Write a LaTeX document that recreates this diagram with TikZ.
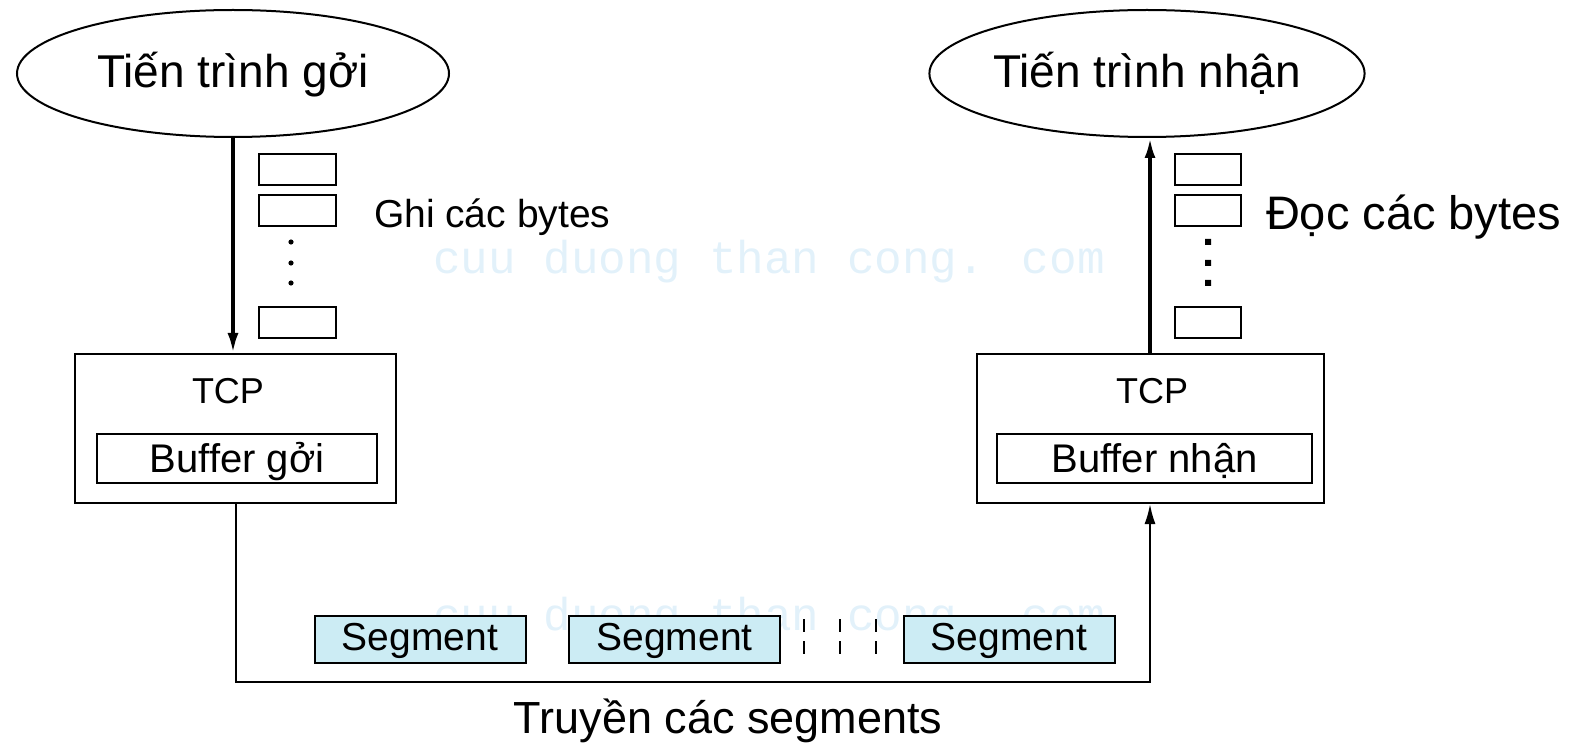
\documentclass[tikz,border=0pt]{standalone}
\usepackage{fontspec}
\setmainfont{Liberation Sans}
\newfontfamily\wmfont{Liberation Mono}
\usetikzlibrary{shapes.geometric,arrows.meta}
\definecolor{segfill}{RGB}{204,236,244}
\definecolor{wmcol}{RGB}{226,241,250}
\begin{document}
\begin{tikzpicture}[x=1pt,y=-1pt,line width=2pt,
  proc/.style={ellipse,draw,line width=2pt,minimum width=432pt,minimum height=127pt,inner sep=0pt,
    font=\fontsize{46}{50}\selectfont,text height=34pt,text depth=5pt},
  bigbox/.style={draw,line width=2pt,minimum height=149pt,inner sep=0pt},
  bufbox/.style={draw,line width=2pt,minimum height=49pt,inner sep=0pt,
    font=\fontsize{40}{44}\selectfont,text height=32pt,text depth=5pt},
  bytebox/.style={draw,line width=2pt,minimum height=31pt,inner sep=0pt},
  segbox/.style={draw,line width=2pt,fill=segfill,minimum width=211pt,minimum height=47pt,inner sep=0pt,
    font=\fontsize{39}{42}\selectfont,text height=29pt,text depth=8pt},
  lbl/.style={inner sep=0pt},
  wmark/.style={inner sep=0pt,anchor=base west,text=wmcol,font=\wmfont\fontsize{46}{50}\selectfont},
  flow/.style={-{Latex[length=20pt,width=11pt]}},
  sep/.style={line width=2pt,dash pattern=on 13pt off 9pt}]
\useasboundingbox (0,0) rectangle (1580,743);

% watermarks
\node[wmark] (wm1) at (432,274) {cuu duong than cong. com};
\node[wmark] (wm2) at (432,630) {cuu duong than cong. com};

% processes
\node[proc] (send) at (233,73.5) {Tiến trình gởi};
\node[proc,minimum width=428pt] (recv) at (1147,73.5) {Tiến trình nhận};

% TCP boxes
\node[bigbox,minimum width=321pt] (tcpL) at (235.5,428.5) {};
\node[bigbox,minimum width=347pt] (tcpR) at (1150,428.5) {};
\node[lbl,anchor=base,font=\fontsize{36}{40}\selectfont] (tcpLt) at (228,403) {TCP};
\node[lbl,anchor=base,font=\fontsize{36}{40}\selectfont] (tcpRt) at (1152,403) {TCP};
\node[bufbox,minimum width=280pt] (bufL) at (237,458.5) {Buffer gởi};
\node[bufbox,minimum width=315pt] (bufR) at (1154.5,458.5) {Buffer nhận};

% byte boxes left
\node[bytebox,minimum width=77pt] (bl1) at (297.5,170) {};
\node[bytebox,minimum width=77pt] (bl2) at (297.5,211) {};
\node[bytebox,minimum width=77pt] (bl3) at (297.5,323) {};
\fill (291,242) circle (2.6pt) (291,263) circle (2.6pt) (291,283) circle (2.6pt);
% byte boxes right
\node[bytebox,minimum width=66pt] (br1) at (1208,170) {};
\node[bytebox,minimum width=66pt] (br2) at (1208,211) {};
\node[bytebox,minimum width=66pt] (br3) at (1208,323) {};
\fill (1205,239) rectangle (1211,245) (1205,260) rectangle (1211,266) (1205,280) rectangle (1211,286);

\node[lbl,anchor=base west,font=\fontsize{39}{42}\selectfont] (ghi) at (373,228) {Ghi các bytes};
\node[lbl,anchor=base west,font=\fontsize{47}{50}\selectfont] (doc) at (1265,230) {Đọc các bytes};

% arrows
\draw[flow,line width=3.5pt] (send.south) -- (send.south |- tcpL.north);
\draw[flow,line width=3.5pt] (tcpR.north) -- (tcpR.north |- recv.south);

% segments
\node[segbox] (s1) at (420,639.5) {Segment};
\node[segbox] (s2) at (674.5,639.5) {Segment};
\node[segbox] (s3) at (1009,639.5) {Segment};
\draw[sep] (804,619) -- (804,656);
\draw[sep] (840,619) -- (840,656);
\draw[sep] (876,619) -- (876,656);

\coordinate (bot) at (0,682);
\draw[flow] (tcpL.south) |- (bot -| tcpR.south) -- (tcpR.south);

\node[lbl,anchor=base,font=\fontsize{45}{48}\selectfont] (truyen) at (728,733) {Truyền các segments};
\end{tikzpicture}
\end{document}
